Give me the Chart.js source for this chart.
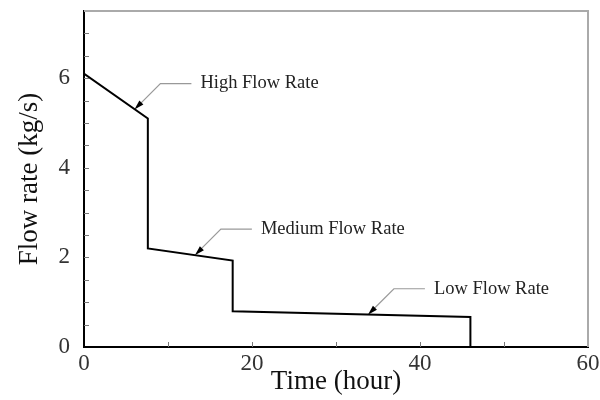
<!DOCTYPE html>
<html>
<head>
<meta charset="utf-8">
<script src="https://cdn.jsdelivr.net/npm/chart.js@4/dist/chart.umd.min.js"></script>
<style>
  html, body { margin: 0; padding: 0; background: #fff; }
  #wrap { width: 600px; height: 400px; }
</style>
</head>
<body>
<div id="wrap"><canvas id="chart"></canvas></div>
<script>
// data
const timeHours = [0, 0, 7.6, 7.6, 17.7, 17.7, 46, 46]
const flowRate = [0, 6.1, 5.1, 2.2, 1.93, 0.8, 0.67, 0]

const xTickLabels = [0, 20, 40, 60]
const yTickLabels = [0, 2, 4, 6]

// callouts: label text and the point on the line they point at
const calloutLabels = ['High Flow Rate', 'Medium Flow Rate', 'Low Flow Rate']
const calloutX = [6, 13.2, 33.8]
const calloutY = [5.3, 2.05, 0.72]

const serif = "'Liberation Serif', 'Times New Roman', serif"

const points = timeHours.map((t, i) => ({ x: t, y: flowRate[i] }))

// ticks inside the plot + grey top/right frame
const frameAndTicks = {
  id: 'frameAndTicks',
  afterDraw (chart) {
    const ctx = chart.ctx
    const a = chart.chartArea
    const xs = chart.scales.x
    const ys = chart.scales.y
    ctx.save()
    ctx.strokeStyle = '#aaa'
    ctx.lineWidth = 2
    ctx.beginPath()
    ctx.moveTo(a.left, a.top)
    ctx.lineTo(a.right, a.top)
    ctx.lineTo(a.right, a.bottom)
    ctx.stroke()

    ctx.strokeStyle = '#777'
    ctx.lineWidth = 1
    xs.ticks.forEach(t => {
      if (t.value <= xs.min || t.value >= xs.max) return
      const px = Math.round(xs.getPixelForValue(t.value)) + 0.5
      ctx.beginPath()
      ctx.moveTo(px, a.bottom)
      ctx.lineTo(px, a.bottom - 5)
      ctx.stroke()
    })
    ys.ticks.forEach(t => {
      if (t.value <= ys.min || t.value >= ys.max) return
      const py = Math.round(ys.getPixelForValue(t.value)) + 0.5
      ctx.beginPath()
      ctx.moveTo(a.left, py)
      ctx.lineTo(a.left + 5, py)
      ctx.stroke()
    })
    ctx.restore()
  }
}

const callouts = {
  id: 'callouts',
  afterDatasetsDraw (chart) {
    const ctx = chart.ctx
    const xs = chart.scales.x
    const ys = chart.scales.y
    ctx.save()
    calloutLabels.forEach((label, i) => {
      const tx = xs.getPixelForValue(calloutX[i])
      const ty = ys.getPixelForValue(calloutY[i])
      const ex = tx + 26
      const ey = ty - 26
      const hx = ex + 31
      ctx.strokeStyle = '#999'
      ctx.lineWidth = 1.2
      ctx.beginPath()
      ctx.moveTo(tx + 4, ty - 4)
      ctx.lineTo(ex, ey)
      ctx.lineTo(hx, ey)
      ctx.stroke()
      // arrow head
      ctx.fillStyle = '#000'
      ctx.beginPath()
      ctx.moveTo(tx, ty)
      ctx.lineTo(tx + 9, ty - 5)
      ctx.lineTo(tx + 5, ty - 9)
      ctx.closePath()
      ctx.fill()
      ctx.fillStyle = '#222'
      ctx.font = '18.5px ' + serif
      ctx.textAlign = 'left'
      ctx.textBaseline = 'middle'
      ctx.fillText(label, hx + 9, ey)
    })
    ctx.restore()
  }
}

new Chart(document.getElementById('chart'), {
  type: 'scatter',
  data: {
    datasets: [{
      label: 'Flow rate',
      data: points,
      showLine: true,
      borderColor: '#000',
      borderWidth: 2,
      pointRadius: 0,
      tension: 0,
      clip: false
    }]
  },
  options: {
    responsive: true,
    maintainAspectRatio: false,
    animation: false,
    layout: { padding: { left: 0, right: 12, top: 11, bottom: 0 } },
    plugins: { legend: { display: false }, tooltip: { enabled: false } },
    scales: {
      x: {
        type: 'linear',
        min: 0,
        max: 60,
        afterFit: s => { s.height = 53; s.paddingLeft = 0; s.paddingRight = 0 },
        border: { color: '#000', width: 2 },
        grid: { display: false },
        ticks: {
          stepSize: 10,
          autoSkip: false,
          maxRotation: 0,
          padding: -5,
          color: '#333',
          font: { family: serif, size: 23 },
          callback: v => xTickLabels.includes(v) ? String(v) : ''
        },
        title: {
          display: true,
          text: 'Time (hour)',
          color: '#111',
          padding: { top: 0, bottom: 2 },
          font: { family: serif, size: 27 }
        }
      },
      y: {
        min: 0,
        max: 7.5,
        afterFit: s => { s.width = 84; s.paddingTop = 0; s.paddingBottom = 0 },
        border: { color: '#000', width: 2 },
        grid: { display: false },
        ticks: {
          stepSize: 0.5,
          autoSkip: false,
          padding: 6,
          color: '#333',
          font: { family: serif, size: 23 },
          callback: v => yTickLabels.includes(v) ? String(v) : ''
        },
        title: {
          display: true,
          text: 'Flow rate (kg/s)',
          color: '#111',
          padding: { top: 14, bottom: 0 },
          font: { family: serif, size: 27 }
        }
      }
    }
  },
  plugins: [frameAndTicks, callouts]
})
</script>
</body>
</html>
